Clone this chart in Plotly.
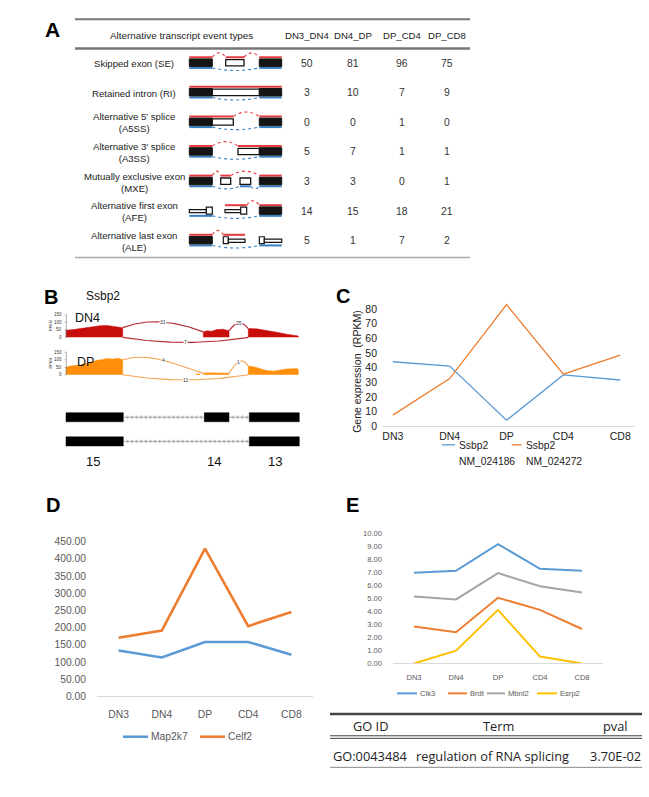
import numpy as np
import plotly.graph_objects as go

W, H = 649, 797
ARIAL = "Liberation Sans, Arial, sans-serif"
SEGOE = "Open Sans, Noto Sans, sans-serif"


def X(px):
    return px / W


def Y(py):
    return 1 - py / H


# ======================= DATA =======================
# Panel A - alternative transcript events
event_types = ["Skipped exon (SE)", "Retained intron (RI)", "Alternative 5′ splice<br>(A5SS)",
               "Alternative 3′ splice<br>(A3SS)", "Mutually exclusive exon<br>(MXE)",
               "Alternative first exon<br>(AFE)", "Alternative last exon<br>(ALE)"]
table_header = "Alternative transcript event types"
comparisons = ["DN3_DN4", "DN4_DP", "DP_CD4", "DP_CD8"]
counts_dn3_dn4 = [50, 3, 0, 5, 3, 14, 5]
counts_dn4_dp = [81, 10, 0, 7, 3, 15, 1]
counts_dp_cd4 = [96, 7, 1, 1, 0, 18, 7]
counts_dp_cd8 = [75, 9, 0, 1, 1, 21, 2]

# Panel B - sashimi plot of Ssbp2 (coverage in RPKM along the locus)
gene_name = "Ssbp2"
sample_names = ["DN4", "DP"]
dn4_cov_pos = [0, 7.3, 17.3, 27.3, 34, 40.7, 47.3, 52.3, 56.7, None,
               137.3, 140.7, 145.7, 150.7, 157.3, 160.7, 163, None,
               182.3, 190.7, 200.7, 210.7, 220.7, 230.7, 232.3]
dn4_cov_val = [47, 51, 62, 69, 77, 79, 73, 69, 64, None,
               36, 43, 41, 51, 54, 47, 45, None,
               58, 56, 47, 34, 21, 11, 9]
dp_cov_pos = [0, 4, 14, 24, 30.7, 35.7, 40.7, 47.3, 52.3, 56.7, None,
              130, 134, None,
              137.3, 143.3, 150.7, 163, None,
              182.3, 187.3, 194, 200.7, 207.3, 214, 220.7, 230.7, 232.3]
dp_cov_val = [49, 58, 64, 79, 96, 100, 107, 105, 109, 100, None,
              6, 6, None,
              11, 13, 11, 11, None,
              58, 54, 43, 28, 24, 32, 39, 41, 36]
junction_start = [56.7, 163.0, 56.7]
junction_end = [137.3, 182.3, 182.3]
dn4_junction_counts = [31, 25, 7]
dp_junction_counts = [4, 1, 11]
tx1_exons = [(0, 57.3), (138.3, 163), (183.3, 233.3)]
tx2_exons = [(0, 57.3), (183.3, 233.3)]
exon_numbers = ["15", "14", "13"]
exon_number_pos = [27, 148, 209]
rpkm_ticks = [0, 50, 100, 150]

# Panel C
stages = ["DN3", "DN4", "DP", "CD4", "CD8"]
ssbp2_nm_024186 = [44, 41, 4, 35, 31.5]
ssbp2_nm_024272 = [7.5, 32.5, 83, 35.5, 48.5]
c_names = [("Ssbp2", "NM_024186"), ("Ssbp2", "NM_024272")]

# Panel D
map2k7 = [133, 113, 158, 158, 121]
celf2 = [170, 191, 429, 204, 245]
d_names = ["Map2k7", "Celf2"]

# Panel E
clk3 = [6.97, 7.12, 9.17, 7.27, 7.12]
brdt = [2.85, 2.40, 5.05, 4.12, 2.65]
mbnl2 = [5.15, 4.92, 6.94, 5.93, 5.45]
esrp2 = [0.00, 0.98, 4.12, 0.53, 0.00]
e_names = ["Clk3", "Brdt", "Mbnl2", "Esrp2"]

# GO table
go_ids = ["GO:0043484"]
go_terms = ["regulation of RNA splicing"]
go_pvals = ["3.70E-02"]

# ======================= STYLE =======================
BLUE, ORANGE, GRAY, YELLOW = "#5b9bd5", "#ed7d31", "#a5a5a5", "#ffc000"
RED_I, BLUE_I = "#e53a3f", "#3a7fc4"

shapes, annots = [], []


def ann(x, y, text, size, color="#222", family=ARIAL, xanchor="center", yanchor="middle",
        textangle=0, bg=None):
    d = dict(x=X(x), y=Y(y), xref="paper", yref="paper", text=text,
             showarrow=False, font=dict(size=size, color=color, family=family),
             xanchor=xanchor, yanchor=yanchor, textangle=textangle, borderpad=0)
    if bg:
        d["bgcolor"] = bg
    annots.append(d)


def line(x0, y0, x1, y1, color, width, dash="solid"):
    shapes.append(dict(type="line", xref="paper", yref="paper", x0=X(x0), y0=Y(y0), x1=X(x1), y1=Y(y1),
                       line=dict(color=color, width=width, dash=dash)))


def rect(x0, y0, x1, y1, fill, lc="#111", lw=1.2):
    shapes.append(dict(type="rect", xref="paper", yref="paper", x0=X(x0), y0=Y(y0), x1=X(x1), y1=Y(y1),
                       fillcolor=fill, line=dict(color=lc, width=lw)))


def qpath(xa, ya, xm, ym, xb, yb, color, width, dash="dot"):
    shapes.append(dict(type="path", xref="paper", yref="paper",
                       path=f"M {X(xa)},{Y(ya)} Q {X(xm)},{Y(ym)} {X(xb)},{Y(yb)}",
                       line=dict(color=color, width=width, dash=dash)))


fig = go.Figure()

# ======================= PANEL A =======================
ann(53, 24.5, "<b>A</b>", 21, color="#000")
line(75, 14.5, 470, 14.5, "#777", 2)
line(75, 44, 470, 44, "#777", 2.5)
line(75, 256, 470, 256, "#aaa", 1.5)
ann(181, 31, table_header, 9.9, color="#222")
col_x = [306.5, 353, 402, 447]
for cx, name in zip(col_x, comparisons):
    ann(cx, 31, name, 9.6, color="#222")
row_y = [59 + 30 * k for k in range(7)]
for ry, lab in zip(row_y, event_types):
    ann(134, ry + 0.5, lab, 9.6, color="#222")
for cx, col in zip(col_x, [counts_dn3_dn4, counts_dn4_dp, counts_dp_cd4, counts_dp_cd8]):
    for ry, v in zip(row_y, col):
        ann(cx, ry, str(v), 10.4, color="#333")

Lb, Rb = (189.3, 212.3), (259.3, 281.7)
icons = [
    dict(black=[Lb, Rb], white=[(225.7, 244)], red=[Lb, (225.7, 244), Rb], redpk=[(212.3, 225.7), (244, 259.3)],
         blue=[Lb, Rb], dip=[(212.3, 259.3)], ham=[]),
    dict(black=[Lb, Rb], white=[(212.3, 259.3)], red=[(189.3, 281.7)], redpk=[],
         blue=[Lb, Rb], dip=[(212.3, 259.3)], ham=[]),
    dict(black=[Lb, Rb], white=[(212.3, 233.3)], red=[(189.3, 233.3), Rb], redpk=[(233.3, 259.3)],
         blue=[Lb, Rb], dip=[(212.3, 259.3)], ham=[]),
    dict(black=[Lb, Rb], white=[(238, 259.3)], red=[Lb, (238, 281.7)], redpk=[(212.3, 238)],
         blue=[Lb, Rb], dip=[(212.3, 259.3)], ham=[]),
    dict(black=[Lb, Rb], white=[(220.7, 230.7), (240, 250.7)], red=[Lb, (220.7, 230.7), Rb],
         redpk=[(212.3, 220.7), (230.7, 259.3)], blue=[Lb, (240, 250.7), Rb],
         dip=[(212.3, 240), (250.7, 259.3)], ham=[]),
    dict(black=[Rb], white=[], red=[(225, 246.7), Rb], redpk=[(246.7, 259.3)],
         blue=[Lb, Rb], dip=[(212.3, 259.3)], ham=[(189.3, 212.3, "R"), (225, 246.7, "R")]),
    dict(black=[Lb], white=[], red=[Lb, (223.3, 245)], redpk=[(212.3, 223.3)],
         blue=[Lb, Rb], dip=[(212.3, 259.3)], ham=[(223.3, 245, "L"), (259.3, 281.7, "L")]),
]
for c, ic in zip(row_y, icons):
    for a, b in ic["red"]:
        line(a, c - 6, b, c - 6, RED_I, 2)
    for a, b in ic["blue"]:
        line(a, c + 4.8, b, c + 4.8, BLUE_I, 2)
    for a, b in ic["redpk"]:
        qpath(a, c - 6, (a + b) / 2, c - 15, b, c - 6, RED_I, 1.1)
    for a, b in ic["dip"]:
        qpath(a, c + 4.8, (a + b) / 2, c + 10, b, c + 4.8, BLUE_I, 1.1)
    for a, b in ic["black"]:
        rect(a, c - 4.3, b, c + 3.3, "#151515", "#151515", 1)
    for a, b in ic["white"]:
        rect(a, c - 3.6, b, c + 2.8, "white", "#151515", 1.3)
    for a, b, side in ic["ham"]:
        if side == "R":
            rect(a, c - 1.6, b - 6, c + 1.6, "white", "#151515", 1.2)
            rect(b - 6, c - 4, b, c + 3, "white", "#151515", 1.2)
        else:
            rect(a, c - 4, a + 5, c + 3, "white", "#151515", 1.2)
            rect(a + 5, c - 1.6, b, c + 1.6, "white", "#151515", 1.2)

# ======================= PANEL B =======================
ann(51.5, 296.5, "<b>B</b>", 20, color="#000")
ann(102.5, 295, gene_name, 12, color="#111")


def polygons(pos, val):
    xs, ys, seg = [], [], []
    for p, v in list(zip(pos, val)) + [(None, None)]:
        if p is None:
            if seg:
                xs += [seg[0][0]] + [s[0] for s in seg] + [seg[-1][0], None]
                ys += [0] + [s[1] for s in seg] + [0, None]
            seg = []
        else:
            seg.append((p, v))
    return xs, ys


def cov_at(pos, val, p):
    return min((abs(a - p), v) for a, v in zip(pos, val) if a is not None)[1]


tracks = [
    dict(pos=dn4_cov_pos, val=dn4_cov_val, counts=dn4_junction_counts, fill="#c80d0d", arc="#b3282d",
         ax="x4", ay="y4", h=[68, 57, -45], label_y=317, label_x=87.5),
    dict(pos=dp_cov_pos, val=dp_cov_val, counts=dp_junction_counts, fill="#ff8f0a", arc="#f3a450",
         ax="x5", ay="y5", h=[54, 69, -45], label_y=361.5, label_x=85),
]
t = np.linspace(0, 1, 80)
for name, tr in zip(sample_names, tracks):
    xs, ys = polygons(tr["pos"], tr["val"])
    fig.add_trace(go.Scatter(x=xs, y=ys, fill="toself", mode="lines", line=dict(width=0.5, color=tr["fill"]),
                             fillcolor=tr["fill"], xaxis=tr["ax"], yaxis=tr["ay"], hoverinfo="skip"))
    for s, e, cnt, h in zip(junction_start, junction_end, tr["counts"], tr["h"]):
        if h > 0:
            y1, y2 = cov_at(tr["pos"], tr["val"], s), cov_at(tr["pos"], tr["val"], e)
        else:
            y1 = y2 = 0
        c1x, c2x = s + (e - s) / 3, e - (e - s) / 3
        bx = (1 - t) ** 3 * s + 3 * (1 - t) ** 2 * t * c1x + 3 * (1 - t) * t ** 2 * c2x + t ** 3 * e
        by = (1 - t) ** 3 * y1 + 3 * (1 - t) ** 2 * t * (y1 + h) + 3 * (1 - t) * t ** 2 * (y2 + h) + t ** 3 * y2
        fig.add_trace(go.Scatter(x=bx, y=by, mode="lines", line=dict(color=tr["arc"], width=1.1),
                                 xaxis=tr["ax"], yaxis=tr["ay"], hoverinfo="skip"))
        annots.append(dict(x=(s + e) / 2, y=(y1 + y2) / 2 + 0.75 * h, xref=tr["ax"], yref=tr["ay"],
                           text=str(cnt), showarrow=False, font=dict(size=5, color="#333", family=ARIAL),
                           bgcolor="white", borderpad=0))
    # small RPKM axis
    shapes.append(dict(type="line", xref="paper", yref=tr["ay"], x0=X(66.3), x1=X(66.3), y0=0, y1=150,
                       line=dict(color="#777", width=0.6)))
    for tv in rpkm_ticks:
        shapes.append(dict(type="line", xref="paper", yref=tr["ay"], x0=X(64.8), x1=X(66.3), y0=tv, y1=tv,
                           line=dict(color="#777", width=0.6)))
        annots.append(dict(x=X(64), y=tv, xref="paper", yref=tr["ay"], text=str(tv), showarrow=False,
                           font=dict(size=4.5, color="#333", family=ARIAL), xanchor="right", yanchor="middle"))
    annots.append(dict(x=X(51), y=75, xref="paper", yref=tr["ay"], text="RPKM", showarrow=False, textangle=-90,
                       font=dict(size=3.8, color="#333", family=ARIAL), xanchor="center", yanchor="middle"))
    ann(tr["label_x"], tr["label_y"], name, 12.5, color="#111")

# gene model
tx_rows = [418, 442.5]
for ry, exons in zip(tx_rows, [tx1_exons, tx2_exons]):
    ix, iy = [], []
    for (a0, a1), (b0, b1) in zip(exons[:-1], exons[1:]):
        ix += [a1, b0, None]
        iy += [ry, ry, None]
    fig.add_trace(go.Scatter(x=ix, y=iy, mode="lines", line=dict(color="#888", width=0.6),
                             xaxis="x6", yaxis="y6", hoverinfo="skip"))
    mx = []
    for (a0, a1), (b0, b1) in zip(exons[:-1], exons[1:]):
        mx += list(np.arange(a1 + 4, b0 - 2, 4.6))
    fig.add_trace(go.Scatter(x=mx, y=[ry] * len(mx), mode="markers",
                             marker=dict(symbol="triangle-left-open", size=2.6, color="#888", line=dict(width=0.5)),
                             xaxis="x6", yaxis="y6", hoverinfo="skip"))
    for a, b in exons:
        shapes.append(dict(type="rect", xref="x6", yref="y6", x0=a, x1=b, y0=ry - 4.6, y1=ry + 4.6,
                           fillcolor="#000", line=dict(color="#000", width=0.5)))
for lab, p in zip(exon_numbers, exon_number_pos):
    annots.append(dict(x=p, y=Y(463), xref="x6", yref="paper", text=lab, showarrow=False,
                       font=dict(size=13, color="#111", family=ARIAL)))

# ======================= PANEL C =======================
ann(343, 295.5, "<b>C</b>", 20, color="#000")
for ys, col in zip([ssbp2_nm_024186, ssbp2_nm_024272], [BLUE, ORANGE]):
    fig.add_trace(go.Scatter(x=stages, y=ys, mode="lines", line=dict(color=col, width=1.3),
                             xaxis="x", yaxis="y", hoverinfo="skip"))
ann(357, 372, "Gene expression  (RPKM)", 10.5, color="#222", textangle=-90)
for (n1, n2), col, lx, tx in zip(c_names, [BLUE, ORANGE], [(442, 455), (511.7, 521.7)], [457.5, 525]):
    line(lx[0], 446, lx[1], 446, col, 1.3)
    ann(tx, 446.5, n1, 10.3, color="#222", xanchor="left")
    ann(tx, 462.5, n2, 10.3, color="#222", xanchor="left")

# ======================= PANEL D =======================
ann(52.5, 507.5, "<b>D</b>", 20, color="#000")
for ys, col in zip([map2k7, celf2], [BLUE, ORANGE]):
    fig.add_trace(go.Scatter(x=stages, y=ys, mode="lines", line=dict(color=col, width=2.6),
                             xaxis="x2", yaxis="y2", hoverinfo="skip"))
for name, col, lx in zip(d_names, [BLUE, ORANGE], [(123, 148), (200, 225)]):
    line(lx[0], 742, lx[1], 742, col, 2.6)
    ann(lx[1] + 1.5, 742, name, 10.3, color="#595959", xanchor="left")

# ======================= PANEL E =======================
ann(352.5, 507.5, "<b>E</b>", 20, color="#000")
for ys, col in zip([clk3, brdt, mbnl2, esrp2], [BLUE, ORANGE, GRAY, YELLOW]):
    fig.add_trace(go.Scatter(x=stages, y=ys, mode="lines", line=dict(color=col, width=2),
                             xaxis="x3", yaxis="y3", hoverinfo="skip"))
for name, col, lx in zip(e_names, [BLUE, ORANGE, GRAY, YELLOW], [(397, 417), (448, 467), (487, 505), (537, 557)]):
    line(lx[0], 698, lx[1], 698, col, 2)
    ann(lx[1] + 1.5, 698, name, 7.6, color="#595959", xanchor="left")

# ======================= GO TABLE =======================
line(330, 719, 642, 719, "#444", 2.5)
line(330, 741, 642, 741, "#444", 1)
line(330, 743.6, 642, 743.6, "#444", 1)
line(330, 773, 642, 773, "#888", 1)
go_cols = [370, 498, 615]
for cx, h in zip(go_cols, ["GO ID", "Term", "pval"]):
    ann(cx, 731.5, h, 12.8, color="#222", family=SEGOE)
for gid, term, pv in zip(go_ids, go_terms, go_pvals):
    ann(370, 761.5, gid, 12.8, color="#222", family=SEGOE)
    ann(492, 761.5, term, 12.8, color="#222", family=SEGOE)
    ann(615, 761.5, pv, 12.8, color="#222", family=SEGOE)

# ======================= LAYOUT =======================
hidden = dict(visible=False, showgrid=False, zeroline=False)
fig.update_layout(
    width=W, height=H, autosize=False, margin=dict(l=0, r=0, t=0, b=0, pad=0),
    paper_bgcolor="white", plot_bgcolor="rgba(0,0,0,0)", showlegend=False,
    font=dict(family=ARIAL),
    # Panel C
    xaxis=dict(domain=[X(382), X(635)], anchor="y", type="category", range=[-0.19, 4.26],
               showline=True, linecolor="#d9d9d9", linewidth=1, ticks="", showgrid=False, zeroline=False,
               tickfont=dict(size=10.5, color="#222", family=ARIAL), ticklabelstandoff=0),
    yaxis=dict(domain=[Y(427), Y(299.4)], anchor="x", range=[0, 86], tickvals=list(range(0, 81, 10)),
               showline=False, ticks="", showgrid=False, zeroline=False,
               tickfont=dict(size=10.5, color="#222", family=ARIAL), ticklabelstandoff=4),
    # Panel D
    xaxis2=dict(domain=[X(97), X(313)], anchor="y2", type="category", range=[-0.5, 4.5],
                showline=True, linecolor="#d9d9d9", linewidth=1, ticks="", showgrid=False, zeroline=False,
                tickfont=dict(size=10.3, color="#595959", family=ARIAL), ticklabelstandoff=8),
    yaxis2=dict(domain=[Y(701), Y(544)], anchor="x2", range=[0, 450], dtick=50, tickformat=".2f",
                showline=False, ticks="", showgrid=False, zeroline=False,
                tickfont=dict(size=10.3, color="#595959", family=ARIAL), ticklabelstandoff=10),
    # Panel E
    xaxis3=dict(domain=[X(393), X(603)], anchor="y3", type="category", range=[-0.5, 4.5],
                showline=True, linecolor="#d9d9d9", linewidth=1, ticks="", showgrid=False, zeroline=False,
                tickfont=dict(size=7.6, color="#595959", family=ARIAL), ticklabelstandoff=6),
    yaxis3=dict(domain=[Y(667.7), Y(535.7)], anchor="x3", range=[0, 10], dtick=1, tickformat=".2f",
                showline=False, ticks="", showgrid=False, zeroline=False,
                tickfont=dict(size=7.6, color="#595959", family=ARIAL), ticklabelstandoff=10),
    # Panel B
    xaxis4=dict(domain=[X(65), X(300)], anchor="y4", range=[-1, 234], **hidden),
    yaxis4=dict(domain=[Y(346.2), Y(310.9)], anchor="x4", range=[-60, 170], **hidden),
    xaxis5=dict(domain=[X(65), X(300)], anchor="y5", range=[-1, 234], **hidden),
    yaxis5=dict(domain=[Y(384.2), Y(348.9)], anchor="x5", range=[-60, 170], **hidden),
    xaxis6=dict(domain=[X(65), X(300)], anchor="y6", range=[-1, 234], **hidden),
    yaxis6=dict(domain=[Y(455), Y(405)], anchor="x6", range=[455, 405], **hidden),
    shapes=shapes, annotations=annots,
)

fig.write_html("out.html", config={"displayModeBar": False},
               post_script="document.body.style.margin='0px';")
